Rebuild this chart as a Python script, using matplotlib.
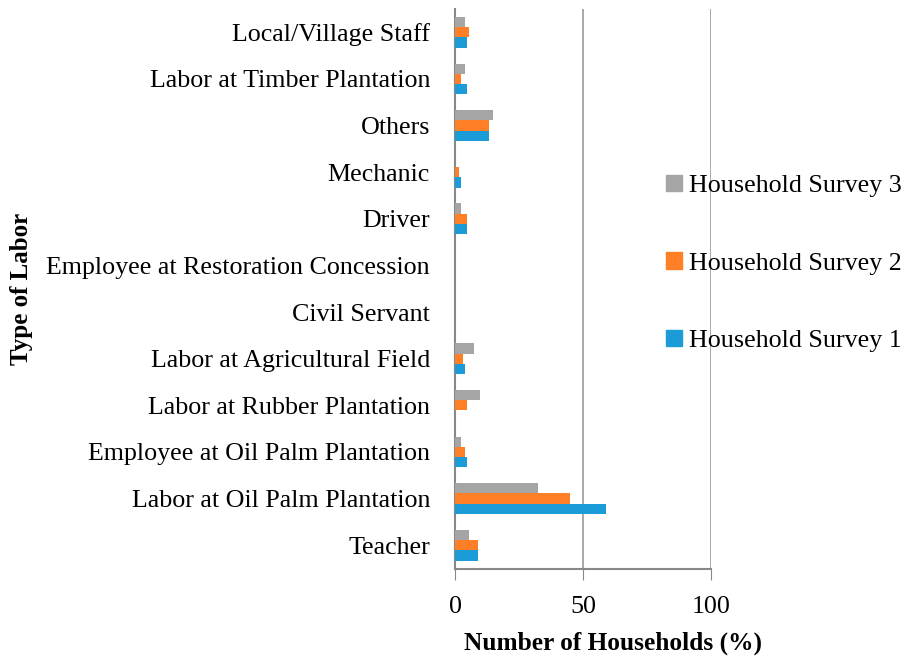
import numpy as np
import matplotlib.pyplot as plt
from matplotlib.patches import Patch

plt.rcParams['font.family'] = ['Liberation Serif', 'DejaVu Serif']

categories = [
    "Teacher",
    "Labor at Oil Palm Plantation",
    "Employee at Oil Palm Plantation",
    "Labor at Rubber Plantation",
    "Labor at Agricultural Field",
    "Civil Servant",
    "Employee at Restoration Concession",
    "Driver",
    "Mechanic",
    "Others",
    "Labor at Timber Plantation",
    "Local/Village Staff",
]
survey1 = [9.0, 59.1, 4.8, 0.0, 3.9, 0.0, 0.0, 4.8, 2.2, 13.2, 4.8, 4.8]
survey2 = [9.0, 44.9, 3.9, 4.8, 3.1, 0.0, 0.0, 4.8, 1.4, 13.2, 2.2, 5.6]
survey3 = [5.5, 32.4, 2.2, 9.8, 7.3, 0.0, 0.0, 2.2, 0.0, 14.8, 3.9, 3.9]
series_names = ["Household Survey 1", "Household Survey 2", "Household Survey 3"]
colors = ["#1B9BD7", "#FF7F27", "#A5A5A5"]

fs = 18.7

fig = plt.figure(figsize=(9.09, 6.59), dpi=100)
ax = fig.add_axes([0.5006, 0.1373, 0.2816, 0.849])

y = np.arange(len(categories))
h = 0.22
for i, (vals, c) in enumerate(zip([survey1, survey2, survey3], colors)):
    ax.barh(y + (i - 1) * h, vals, height=h, color=c, zorder=3)

ax.set_xlim(0, 100)
ax.set_ylim(-0.5, len(categories) - 0.5)
ax.set_xticks([0, 50, 100])
ax.set_yticks(y)
ax.set_yticklabels(categories, fontsize=fs)
ax.tick_params(axis='y', length=0, pad=18)
ax.tick_params(axis='x', length=8, color='#888888', labelsize=fs, pad=12)
ax.grid(axis='x', color='#999999', linewidth=1.2, zorder=0)
for s in ['top', 'right']:
    ax.spines[s].set_visible(False)
for s in ['left', 'bottom']:
    ax.spines[s].set_color('#888888')
    ax.spines[s].set_linewidth(1.5)

fig.text(0.674, 0.0145, "Number of Households (%)", fontsize=18.3,
         fontweight='bold', ha='center', va='baseline')
fig.text(0.024, 0.561, "Type of Labor", rotation=90, fontsize=18,
         fontweight='bold', ha='center', va='center')

handles = [Patch(color=c) for c in colors][::-1]
fig.legend(handles, series_names[::-1], loc='center left',
           bbox_to_anchor=(0.707, 0.600), frameon=False, fontsize=fs,
           handlelength=0.6, handleheight=0.6, handletextpad=0.3,
           labelspacing=2.12)

fig.savefig("out.png", dpi=100)
